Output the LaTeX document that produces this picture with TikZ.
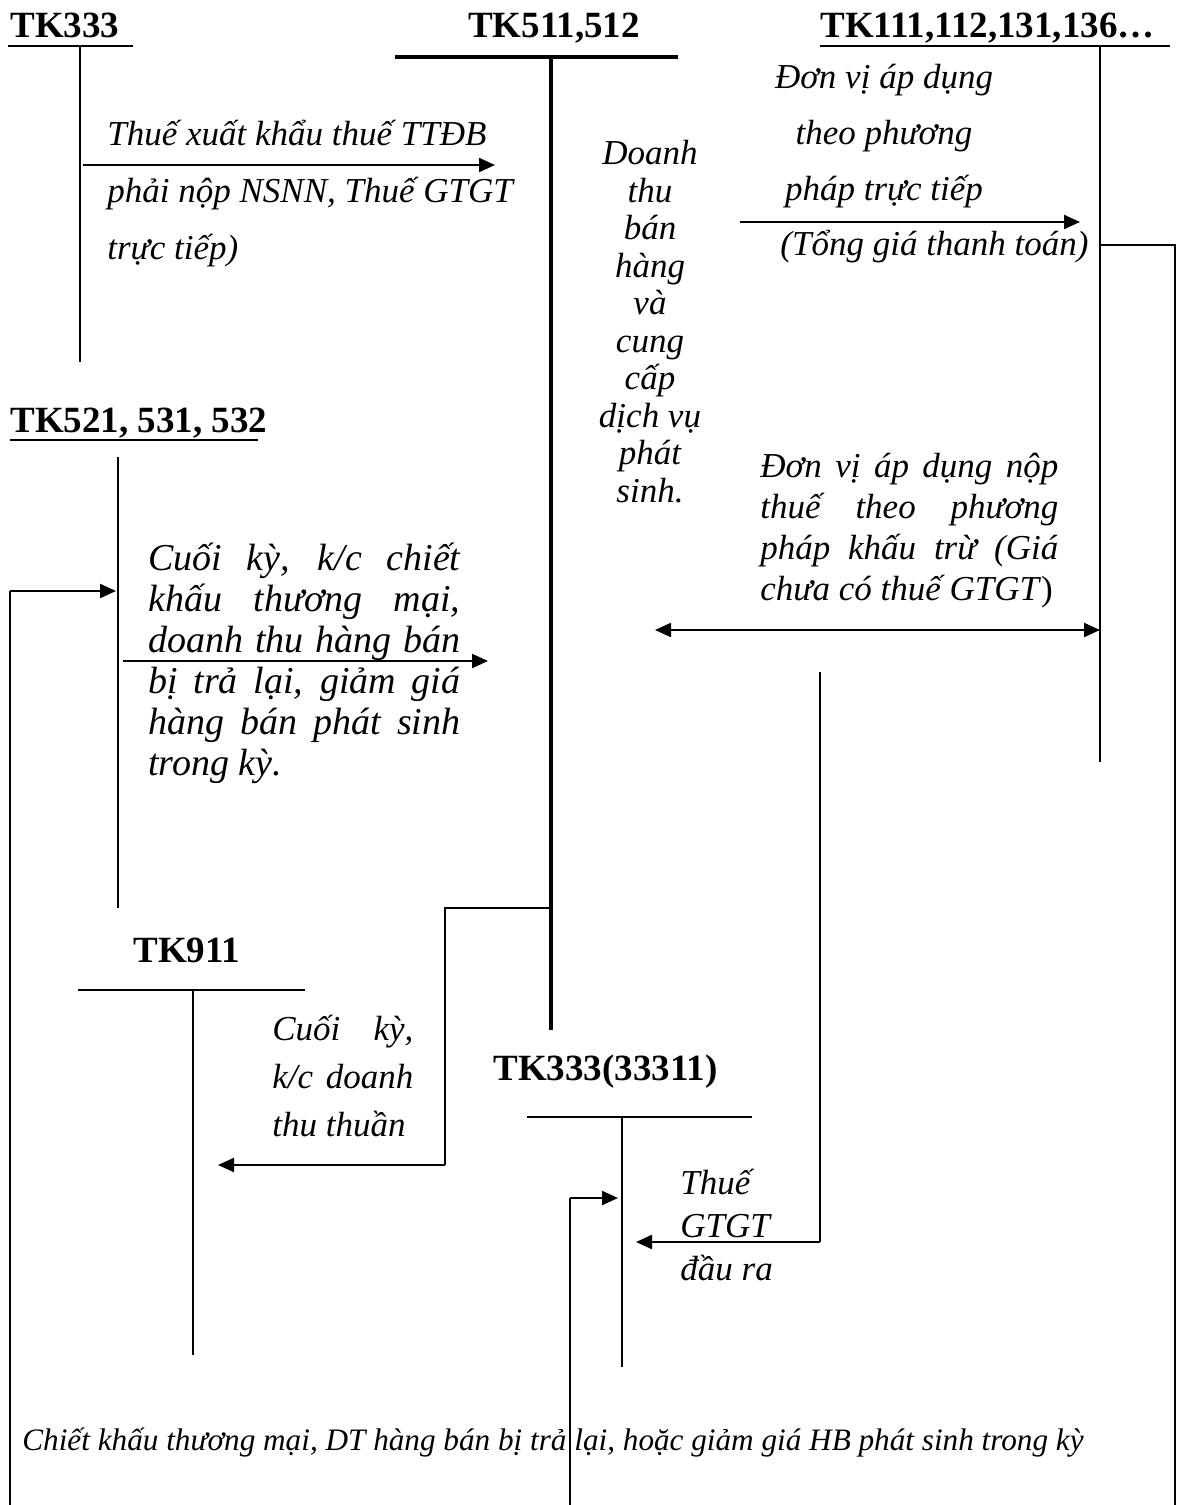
\documentclass[tikz,border=0pt]{standalone}
\usepackage{fontspec}
\setmainfont{Liberation Serif}
\usetikzlibrary{arrows.meta}

\begin{document}
\begin{tikzpicture}[x=0.5pt, y=-0.5pt,
  acct/.style={font=\fontsize{18.5}{20}\selectfont\bfseries, inner sep=0pt},
  note/.style={font=\fontsize{17.5}{20.5}\selectfont\itshape, inner sep=0pt},
  tline/.style={line width=0.8pt},
  arrow/.style={-{Triangle[length=8pt, width=7pt]}, line width=1.1pt},
  dblarrow/.style={{Triangle[length=8pt, width=7pt]}-{Triangle[length=8pt, width=7pt]},
    line width=1.1pt}
]
\useasboundingbox (0,0) rectangle (1178,1505);

% TK333
\node[acct, anchor=base west] (tk333) at (10,37) {TK333};
\coordinate (t333a) at (80,46);
\coordinate (t333b) at (80,362);
\draw[tline] (8,46) -- (133,46);
\draw[tline] (t333a) -- (t333b);

% TK511,512
\node[acct, anchor=base] (tk511) at (554,37) {TK511,512};
\coordinate (t511a) at (551,57);
\coordinate (t511b) at (551,1030);
\draw[line width=1.6pt] (395,57) -- (678,57);
\draw[line width=1.6pt] (t511a) -- (t511b);

% TK111,112,131,136...
\node[acct, anchor=base west] (tk111) at (820,37) {TK111,112,131,136…};
\coordinate (t111a) at (1100,46);
\coordinate (t111b) at (1100,762);
\draw[tline] (820,46) -- (1170,46);
\draw[tline] (t111a) -- (t111b);

% TK521, 531, 532
\node[acct, anchor=base west] (tk521) at (10,432) {TK521, 531, 532};
\coordinate (t521a) at (118,457);
\coordinate (t521b) at (118,908);
\draw[tline] (10,440) -- (258,440);
\draw[tline] (t521a) -- (t521b);

% TK911
\node[acct, anchor=base west] (tk911) at (133,962) {TK911};
\coordinate (t911a) at (193,990);
\coordinate (t911b) at (193,1355);
\draw[tline] (78,990) -- (305,990);
\draw[tline] (t911a) -- (t911b);

% TK333(33311)
\node[acct, anchor=base west] (tk33311) at (493,1080) {TK333(33311)};
\coordinate (t3331a) at (622,1117);
\coordinate (t3331b) at (622,1367);
\draw[tline] (527,1117) -- (752,1117);
\draw[tline] (t3331a) -- (t3331b);

% Thue xuat khau, TTDB
\coordinate (a1s) at (83,165);
\coordinate (a1e) at (495,165);
\draw[arrow] (a1s) -- (a1e);
\node[note, anchor=base west, align=left, font=\fontsize{17.5}{28.5}\selectfont\itshape]
  (ttdb) at (107,259) {Thuế xuất khẩu thuế TTĐB\\phải nộp NSNN, Thuế GTGT\\trực tiếp)};

% Doanh thu
\node[note, anchor=base, align=center, font=\fontsize{17.5}{18.75}\selectfont\itshape]
  (dthu) at (650,502) {Doanh\\thu\\bán\\hàng\\và\\cung\\cấp\\dịch vụ\\phát\\sinh.};

% Truc tiep
\coordinate (a2s) at (740,222);
\coordinate (a2e) at (1080,222);
\draw[arrow] (a2s) -- (a2e);
\node[note, anchor=base, align=center, font=\fontsize{17.5}{28}\selectfont\itshape]
  (tructiep) at (884,200) {Đơn vị áp dụng\\theo phương\\pháp trực tiếp};
\node[note, anchor=base west] (tongia) at (780,255) {(Tổng giá thanh toán)};

% Khau tru
\coordinate (a3s) at (655,630);
\coordinate (a3e) at (1100,630);
\draw[dblarrow] (a3s) -- (a3e);
\node[note, anchor=base west, text width=149pt, align=justify]
  (khautru) at (760,477) {Đơn vị áp dụng nộp thuế theo phương pháp khấu trừ (Giá chưa có thuế GTGT\textup{)}};

% Chiet khau cuoi ky
\coordinate (a4s) at (123,661);
\coordinate (a4e) at (488,661);
\draw[arrow] (a4s) -- (a4e);
\node[note, anchor=base west, text width=156pt, align=justify,
  font=\fontsize{19}{20.5}\selectfont\itshape]
  (ckcuoi) at (148,570) {Cuối kỳ, k/c chiết khấu thương mại, doanh thu hàng bán bị trả lại, giảm giá hàng bán phát sinh trong kỳ.};

% Doanh thu thuan
\coordinate (b1) at (551,908);
\coordinate (b2) at (445,908);
\coordinate (b3) at (445,1165);
\coordinate (b4) at (218,1165);
\draw[tline] (b1) -- (b2) -- (b3);
\draw[arrow] (b3) -- (b4);
\node[note, anchor=base west, text width=70.5pt, align=justify,
  font=\fontsize{17.5}{24}\selectfont\itshape]
  (dtthuan) at (272,1040) {Cuối kỳ, k/c doanh thu thuần};

% Thue GTGT dau ra
\coordinate (c1) at (820,672);
\coordinate (c2) at (820,1242);
\coordinate (c3) at (636,1242);
\draw[tline] (c1) -- (c2);
\draw[arrow] (c2) -- (c3);
\node[note, anchor=base west, align=left, font=\fontsize{17.5}{21.5}\selectfont\itshape]
  (gtgt) at (680,1280) {Thuế\\GTGT\\đầu ra};

% Tien ve
\coordinate (d1) at (1100,245);
\coordinate (d2) at (1175,245);
\coordinate (d3) at (1175,1505);
\draw[tline] (d1) -- (d2) -- (d3);

% Chiet khau phat sinh
\coordinate (e1) at (10,1505);
\coordinate (e2) at (10,591);
\coordinate (e3) at (116,591);
\draw[tline] (e1) -- (e2);
\draw[arrow] (e2) -- (e3);
\coordinate (f1) at (570,1505);
\coordinate (f2) at (570,1198);
\coordinate (f3) at (618,1198);
\draw[tline] (f1) -- (f2);
\draw[arrow] (f2) -- (f3);
\node[note, anchor=base west, font=\fontsize{15.6}{18}\selectfont\itshape]
  (ckps) at (22,1450) {Chiết khấu thương mại, DT hàng bán bị trả lại, hoặc giảm giá HB phát sinh trong kỳ};

\end{tikzpicture}
\end{document}
